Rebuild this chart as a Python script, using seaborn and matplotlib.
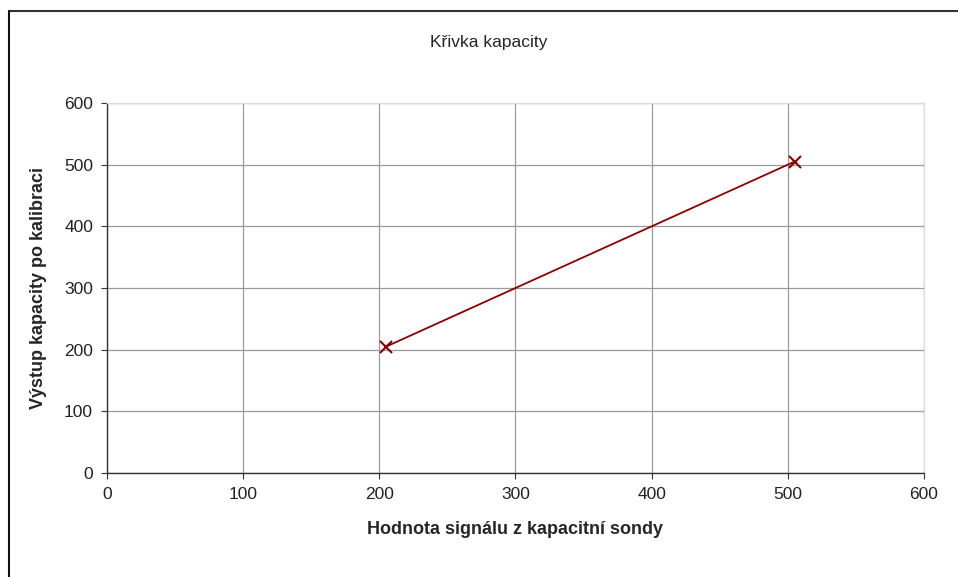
import matplotlib
matplotlib.use("Agg")
import matplotlib.pyplot as plt
import seaborn as sns
import pandas as pd
from matplotlib.lines import Line2D

signal = [205, 505]
output = [205, 505]
ticks = [0, 100, 200, 300, 400, 500, 600]

df = pd.DataFrame({"signal": signal, "output": output})

sns.set_style("white")
plt.rcParams["font.family"] = ["Liberation Sans", "DejaVu Sans"]

fig = plt.figure(figsize=(9.58, 5.77), dpi=100)
ax = fig.add_axes([0.1117, 0.1802, 0.8528, 0.6413])

sns.lineplot(data=df, x="signal", y="output", ax=ax, color="#8b0000",
             linewidth=1.3, marker="x", markersize=9, markeredgewidth=1.5,
             markeredgecolor="#8b0000")

ax.set_xlim(0, 600)
ax.set_ylim(0, 600)
ax.set_xticks(ticks)
ax.set_yticks(ticks)
ax.tick_params(labelsize=12.5, length=4, direction="out", color="#333333",
               left=True, bottom=True, pad=6, labelcolor="#222222")
ax.grid(True, color="#9a9a9a", linewidth=0.9)
ax.set_axisbelow(True)

for s in ["left", "bottom"]:
    ax.spines[s].set_color("#333333")
    ax.spines[s].set_linewidth(1.0)
for s in ["top", "right"]:
    ax.spines[s].set_color("#dddddd")
    ax.spines[s].set_linewidth(1.0)

ax.set_xlabel("Hodnota signálu z kapacitní sondy", fontsize=13,
              fontweight="bold", labelpad=14)
ax.set_ylabel("Výstup kapacity po kalibraci", fontsize=13,
              fontweight="bold", labelpad=12)
fig.text(0.51, 0.926, "Křivka kapacity", ha="center", va="center", fontsize=12.5)

# outer frame of the chart area
fig.add_artist(Line2D([0.0094, 1.0], [0.981, 0.981], color="#333333", linewidth=1.5))
fig.add_artist(Line2D([0.0094, 0.0094], [0.0, 0.981], color="#111111", linewidth=1.5))

fig.savefig("out.png", dpi=100)
